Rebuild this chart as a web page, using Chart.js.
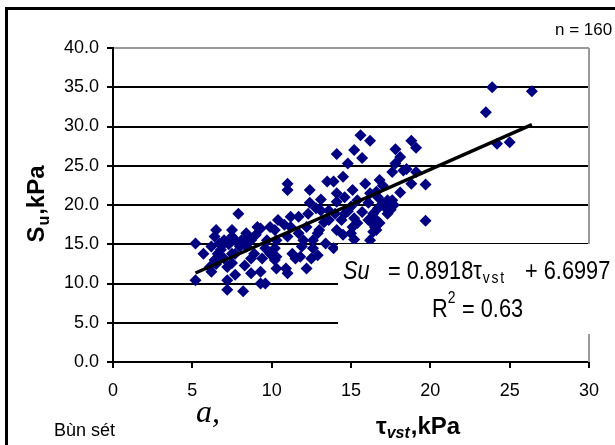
<!DOCTYPE html>
<html>
<head>
<meta charset="utf-8">
<script src="https://cdn.jsdelivr.net/npm/chart.js@4.4.1/dist/chart.umd.min.js"></script>
<style>
  html, body { margin: 0; padding: 0; background: #fff; }
  #wrap { width: 615px; height: 445px; }
</style>
</head>
<body>
<div id="wrap"><canvas id="suChart" width="615" height="445"></canvas></div>
<script>
// vane shear strength (x) vs undrained shear strength (y), kPa
const tauVst = [
    23.9, 26.4, 23.5, 24.2, 25.0, 19.7, 19.7, 18.8, 19.1, 17.8,
    18.1, 17.8, 17.6, 18.3, 19.1, 18.8, 18.1, 15.6, 16.2, 14.1,
    15.2, 15.7, 14.8, 14.5, 13.5, 13.9, 12.4, 11.0, 11.0, 15.9,
    16.8, 17.0, 15.1, 14.1, 13.1, 12.4, 16.2, 16.6, 17.3, 17.6,
    17.7, 17.3, 17.2, 16.7, 16.4, 16.1, 16.5, 16.4, 16.2, 16.6,
    15.4, 15.0, 15.2, 15.4, 15.1, 14.6, 14.4, 14.1, 14.5, 15.2,
    14.0, 13.6, 13.6, 13.4, 13.9, 12.9, 13.0, 12.6, 12.6, 12.3,
    12.2, 12.0, 12.5, 12.2, 11.7, 11.2, 11.2, 11.0, 11.3, 11.5,
    11.8, 11.0, 10.9, 10.4, 10.2, 10.3, 10.3, 10.2, 10.3, 9.9,
    9.7, 9.6, 9.3, 9.1, 9.6, 9.3, 9.3, 8.7, 8.4, 8.4,
    8.7, 8.3, 8.7, 8.2, 7.9, 7.7, 8.0, 7.7, 7.5, 7.5,
    7.5, 7.5, 7.7, 7.2, 7.2, 7.0, 6.8, 7.0, 7.2, 6.5,
    6.4, 6.2, 6.6, 6.4, 6.1, 6.2, 5.2, 5.2, 5.7, 6.7,
    8.1, 8.9, 9.4, 10.2, 14.6, 16.7, 16.1, 15.7, 14.1, 13.1,
    15.0, 16.6, 16.8, 11.7, 11.9, 12.9, 9.9, 6.9, 7.3, 8.5,
    9.0, 10.8, 13.3, 14.8, 17.5, 17.0, 12.8, 6.5, 16.3, 18.5
];
const suValues = [
    35.0, 34.5, 31.8, 27.8, 28.0, 18.0, 22.6, 28.2, 27.3, 27.1,
    26.1, 25.3, 24.2, 24.4, 24.2, 22.7, 21.6, 28.9, 28.2, 26.5,
    27.0, 26.0, 25.3, 23.6, 23.0, 23.0, 21.9, 22.7, 21.9, 22.7,
    23.2, 22.5, 21.9, 21.5, 20.7, 20.3, 21.5, 21.7, 20.6, 20.6,
    20.0, 18.9, 19.6, 19.6, 18.9, 18.1, 17.2, 16.6, 15.5, 18.1,
    20.6, 19.8, 18.3, 17.7, 17.2, 18.9, 18.1, 16.8, 16.2, 15.6,
    18.9, 19.3, 18.1, 15.1, 14.5, 16.4, 16.8, 15.5, 14.5, 18.9,
    17.2, 15.5, 13.2, 11.9, 18.5, 18.5, 17.2, 16.0, 13.8, 13.2,
    13.4, 11.3, 11.9, 18.1, 16.8, 15.5, 13.4, 13.0, 11.9, 17.2,
    15.5, 14.5, 17.0, 17.2, 10.0, 10.0, 11.5, 15.5, 16.4, 14.7,
    13.2, 12.3, 11.3, 9.0, 18.9, 15.5, 14.7, 13.8, 16.8, 16.0,
    13.8, 12.6, 11.1, 10.4, 9.2, 15.5, 14.3, 13.2, 12.1, 16.8,
    16.0, 14.7, 13.8, 13.0, 12.1, 11.5, 15.1, 10.4, 13.8, 15.1,
    15.5, 13.8, 13.2, 14.5, 21.0, 21.0, 20.3, 19.1, 20.4, 19.3,
    16.4, 16.8, 17.7, 16.4, 14.7, 13.6, 13.8, 14.9, 15.0, 15.9,
    16.2, 17.5, 17.8, 19.2, 19.4, 20.2, 19.6, 12.5, 17.8, 24.6
];

// regression: Su = slope * tau + intercept
const slope = 0.8918;
const intercept = 6.6997;
const rSquaredText = '0.63';
const sampleCount = 160;

const xMin = 0, xMax = 30, xStep = 5;
const yMin = 0, yMax = 40, yStep = 5;

const FONT = '"Liberation Sans", Arial, sans-serif';
const NARROW = 0.87; // horizontal squeeze for the equation text

const points = tauVst.map((t, i) => ({ x: t, y: suValues[i] }));
const trendStart = Math.min(...tauVst);
const trendEnd = Math.max(...tauVst);
const trendLine = [
    { x: trendStart, y: slope * trendStart + intercept },
    { x: trendEnd, y: slope * trendEnd + intercept }
];

// draws a run of [text, font, dx, dy] pieces starting at x, y
function drawRun(ctx, x, y, pieces) {
    pieces.forEach(p => {
        ctx.font = p[1];
        ctx.fillText(p[0], x + (p[2] || 0), y + (p[3] || 0));
        x += ctx.measureText(p[0]).width + (p[2] || 0);
    });
}

function runWidth(ctx, pieces) {
    let w = 0;
    pieces.forEach(p => { ctx.font = p[1]; w += ctx.measureText(p[0]).width + (p[2] || 0); });
    return w;
}

// condensed text, returns the x where the next piece starts
function narrowText(ctx, text, font, x, y, spacing) {
    ctx.font = font;
    ctx.save();
    ctx.letterSpacing = (spacing || 0) + 'px';
    ctx.translate(x, y);
    ctx.scale(NARROW, 1);
    ctx.fillText(text, 0, 0);
    const w = ctx.measureText(text).width;
    ctx.restore();
    return x + w * NARROW;
}

const decorations = {
    id: 'decorations',
    beforeDraw(chart) {
        const ctx = chart.ctx;
        ctx.save();
        ctx.fillStyle = '#fff';
        ctx.fillRect(0, 0, chart.width, chart.height);
        ctx.restore();
    },
    afterDraw(chart) {
        const ctx = chart.ctx;
        const area = chart.chartArea;
        ctx.save();

        // plot area right border
        ctx.strokeStyle = '#9a9a9a';
        ctx.lineWidth = 2;
        ctx.beginPath();
        ctx.moveTo(area.right, area.top);
        ctx.lineTo(area.right, area.bottom);
        ctx.stroke();

        // equation label box
        ctx.fillStyle = '#fff';
        ctx.fillRect(338, 244, 280, 90);

        ctx.fillStyle = '#000';
        ctx.textBaseline = 'alphabetic';
        ctx.textAlign = 'left';
        const big = '25px ' + FONT;
        narrowText(ctx, 'Su', 'italic ' + big, 343, 279);
        let x = narrowText(ctx, '= ' + slope.toFixed(4), big, 388, 279);
        x = narrowText(ctx, '\u03c4', big, x, 279);
        narrowText(ctx, 'vst', '16px ' + FONT, x + 1, 283, 2);
        narrowText(ctx, '+ ' + intercept.toFixed(4), big, 525, 279);

        x = narrowText(ctx, 'R', big, 432, 317);
        narrowText(ctx, '2', '16px ' + FONT, x, 303);
        narrowText(ctx, '= ' + rSquaredText, big, 462, 317);

        // sample size
        ctx.font = '17px ' + FONT;
        ctx.fillText('n = ' + sampleCount, 555, 35);

        // y axis title
        const yTitle = [
            ['S', 'bold 24px ' + FONT],
            ['u', 'bold 16px ' + FONT, 1, 5],
            [',kPa', 'bold 24px ' + FONT, 1, 0]
        ];
        ctx.save();
        ctx.translate(44, 204 + runWidth(ctx, yTitle) / 2);
        ctx.rotate(-Math.PI / 2);
        drawRun(ctx, 0, 0, yTitle);
        ctx.restore();

        // x axis title
        drawRun(ctx, 376, 434, [
            ['\u03c4', 'bold 24px ' + FONT],
            ['vst', 'bold italic 16px ' + FONT, 0, 4],
            [',kPa', 'bold 24px ' + FONT, 1, 0]
        ]);

        // panel captions
        ctx.font = 'italic 32px "Liberation Serif", "Times New Roman", serif';
        ctx.fillText('a,', 196, 422);
        ctx.font = '18px ' + FONT;
        ctx.fillText('B\u00f9n s\u00e9t', 54, 436);

        // outer frame
        ctx.strokeStyle = '#000';
        ctx.lineWidth = 3;
        ctx.strokeRect(6.5, 8.5, 620, 450);

        ctx.restore();
    }
};

const ctx = document.getElementById('suChart').getContext('2d');
new Chart(ctx, {
    type: 'scatter',
    data: {
        datasets: [
            {
                label: 'Trend',
                data: trendLine,
                showLine: true,
                borderColor: '#000',
                borderWidth: 3.5,
                pointRadius: 0,
                fill: false
            },
            {
                label: 'Su',
                data: points,
                pointStyle: 'rectRot',
                pointRadius: 6,
                pointBorderWidth: 0,
                backgroundColor: '#000080',
                borderColor: '#000080'
            }
        ]
    },
    options: {
        responsive: false,
        animation: false,
        devicePixelRatio: 1,
        layout: { padding: { left: 0, top: 48, right: 26, bottom: 0 } },
        plugins: {
            legend: { display: false },
            tooltip: { enabled: false }
        },
        scales: {
            x: {
                type: 'linear',
                min: xMin,
                max: xMax,
                afterFit(scale) { scale.height = 83; },
                ticks: {
                    stepSize: xStep,
                    color: '#000',
                    padding: 12,
                    font: { family: FONT, size: 18 }
                },
                grid: {
                    drawOnChartArea: false,
                    drawTicks: true,
                    tickLength: 6,
                    color: '#000',
                    lineWidth: 2
                },
                border: { display: true, color: '#000', width: 2 }
            },
            y: {
                type: 'linear',
                min: yMin,
                max: yMax,
                afterFit(scale) { scale.width = 113; },
                ticks: {
                    stepSize: yStep,
                    color: '#000',
                    padding: 8,
                    font: { family: FONT, size: 18 },
                    callback: v => v.toFixed(1)
                },
                grid: {
                    color: c => (c.tick && c.tick.value === yMax) ? '#9a9a9a' : '#000',
                    tickColor: '#000',
                    tickLength: 6,
                    lineWidth: 2
                },
                border: { display: true, color: '#000', width: 2 }
            }
        }
    },
    plugins: [decorations]
});
</script>
</body>
</html>
